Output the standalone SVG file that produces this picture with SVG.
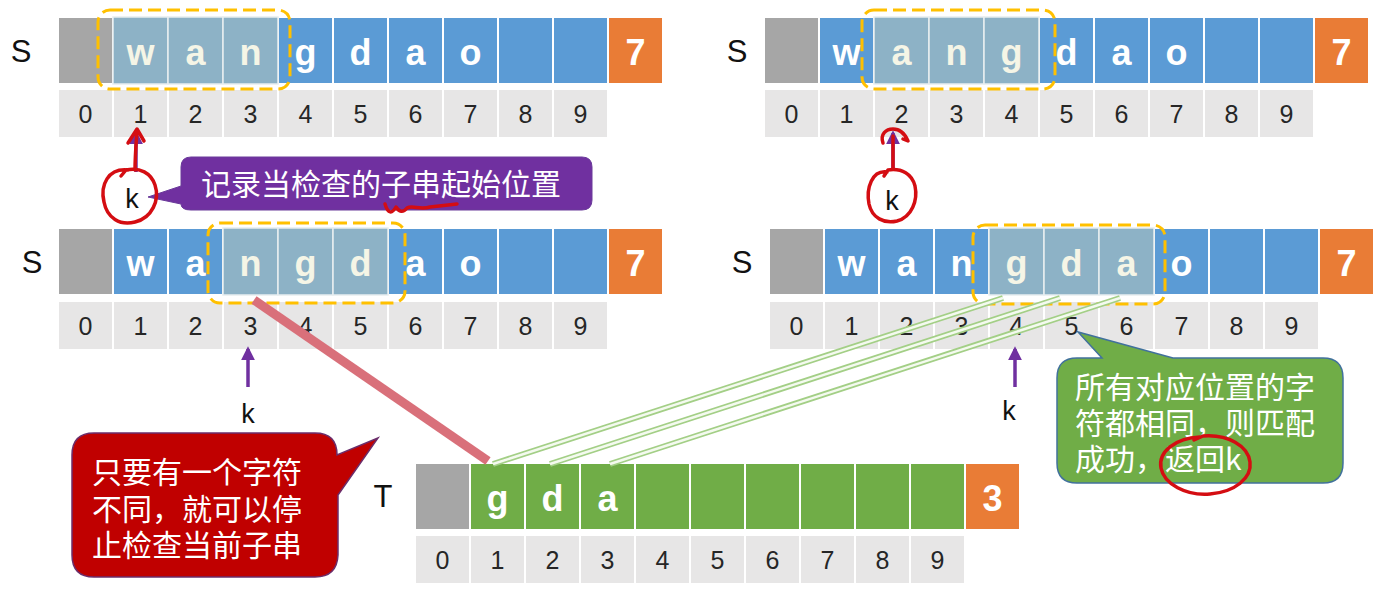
<svg xmlns="http://www.w3.org/2000/svg" xmlns:xlink="http://www.w3.org/1999/xlink" width="1389" height="591" viewBox="0 0 1389 591">
<style>
.c{stroke:#fff;stroke-width:2}
.gr{fill:#a6a6a6}
.or{fill:#e97c36}
.ix{fill:#e7e6e6}
.hl{fill:#8db2c6;stroke:#e8eef0;stroke-width:1.5}
.lt{font-family:"Liberation Sans",Arial,sans-serif;font-weight:bold;font-size:36px;fill:#fff;text-anchor:middle}
.lh{fill:#f5f5e6}
.num{font-family:"Liberation Sans",Arial,sans-serif;font-size:25px;fill:#262626;text-anchor:middle}
.lab{font-family:"Liberation Sans",Arial,sans-serif;font-size:31px;fill:#111;text-anchor:middle}
.k{font-family:"Liberation Sans",Arial,sans-serif;font-size:27px;fill:#111;text-anchor:middle}
.dash{fill:none;stroke:#ffc000;stroke-width:3;stroke-dasharray:13 6}
.zh{font-family:"Noto Sans CJK SC",sans-serif;font-size:30px;fill:#fff}
.pa{stroke:#7030a0;stroke-width:3.5;fill:none}
.red{fill:none;stroke:#d40d12;stroke-width:3.5;stroke-linecap:round;stroke-linejoin:round}
.gl-o{stroke:#a3cf86;stroke-width:6}
.gl-i{stroke:#f4faef;stroke-width:2.5}
</style>
<defs>
<marker id="ah" viewBox="0 0 10 10" refX="8" refY="5" markerWidth="4" markerHeight="4" orient="auto"><path d="M0,0 L10,5 L0,10 z" fill="#7030a0"/></marker>
<g id="topRow">
<rect class="c gr" x="0" y="0" width="55" height="67"/>
<rect class="c" x="55" y="0" width="55" height="67"/>
<rect class="c" x="110" y="0" width="55" height="67"/>
<rect class="c" x="165" y="0" width="55" height="67"/>
<rect class="c" x="220" y="0" width="55" height="67"/>
<rect class="c" x="275" y="0" width="55" height="67"/>
<rect class="c" x="330" y="0" width="55" height="67"/>
<rect class="c" x="385" y="0" width="55" height="67"/>
<rect class="c" x="440" y="0" width="55" height="67"/>
<rect class="c" x="495" y="0" width="55" height="67"/>
<rect class="c or" x="550" y="0" width="55" height="67"/>
</g>
<g id="idxRow">
<rect class="c ix" x="0" y="0" width="55" height="49"/>
<rect class="c ix" x="55" y="0" width="55" height="49"/>
<rect class="c ix" x="110" y="0" width="55" height="49"/>
<rect class="c ix" x="165" y="0" width="55" height="49"/>
<rect class="c ix" x="220" y="0" width="55" height="49"/>
<rect class="c ix" x="275" y="0" width="55" height="49"/>
<rect class="c ix" x="330" y="0" width="55" height="49"/>
<rect class="c ix" x="385" y="0" width="55" height="49"/>
<rect class="c ix" x="440" y="0" width="55" height="49"/>
<rect class="c ix" x="495" y="0" width="55" height="49"/>
<text class="num" x="27.5" y="34">0</text>
<text class="num" x="82.5" y="34">1</text>
<text class="num" x="137.5" y="34">2</text>
<text class="num" x="192.5" y="34">3</text>
<text class="num" x="247.5" y="34">4</text>
<text class="num" x="302.5" y="34">5</text>
<text class="num" x="357.5" y="34">6</text>
<text class="num" x="412.5" y="34">7</text>
<text class="num" x="467.5" y="34">8</text>
<text class="num" x="522.5" y="34">9</text>
</g>
</defs>
<rect x="0" y="0" width="1389" height="591" fill="#fff"/>

<g id="S1" transform="translate(58,17)">
<text class="lab" x="-37" y="45">S</text>
<use xlink:href="#topRow" href="#topRow" fill="#5b9bd5"/>
<rect class="hl" x="55" y="0" width="55" height="67"/>
<rect class="hl" x="110" y="0" width="55" height="67"/>
<rect class="hl" x="165" y="0" width="55" height="67"/>
<use xlink:href="#idxRow" href="#idxRow" y="72"/>
<text class="lt lh" x="82.5" y="48">w</text>
<text class="lt lh" x="137.5" y="48">a</text>
<text class="lt lh" x="192.5" y="48">n</text>
<text class="lt" x="247.5" y="48">g</text>
<text class="lt" x="302.5" y="48">d</text>
<text class="lt" x="357.5" y="48">a</text>
<text class="lt" x="412.5" y="48">o</text>
<text class="lt" x="577.5" y="48">7</text>
<rect class="dash" x="40" y="-7" width="192" height="79" rx="12"/>
</g>

<g id="S2" transform="translate(58,228)">
<text class="lab" x="-26" y="45">S</text>
<use xlink:href="#topRow" href="#topRow" fill="#5b9bd5"/>
<rect class="hl" x="165" y="0" width="55" height="67"/>
<rect class="hl" x="220" y="0" width="55" height="67"/>
<rect class="hl" x="275" y="0" width="55" height="67"/>
<use xlink:href="#idxRow" href="#idxRow" y="73"/>
<text class="lt" x="82.5" y="48">w</text>
<text class="lt" x="137.5" y="48">a</text>
<text class="lt lh" x="192.5" y="48">n</text>
<text class="lt lh" x="247.5" y="48">g</text>
<text class="lt lh" x="302.5" y="48">d</text>
<text class="lt" x="357.5" y="48">a</text>
<text class="lt" x="412.5" y="48">o</text>
<text class="lt" x="577.5" y="48">7</text>
<rect class="dash" x="150" y="-5" width="197" height="80" rx="12"/>
</g>

<g id="S3" transform="translate(764,17)">
<text class="lab" x="-27" y="45">S</text>
<use xlink:href="#topRow" href="#topRow" fill="#5b9bd5"/>
<rect class="hl" x="110" y="0" width="55" height="67"/>
<rect class="hl" x="165" y="0" width="55" height="67"/>
<rect class="hl" x="220" y="0" width="55" height="67"/>
<use xlink:href="#idxRow" href="#idxRow" y="72"/>
<text class="lt" x="82.5" y="48">w</text>
<text class="lt lh" x="137.5" y="48">a</text>
<text class="lt lh" x="192.5" y="48">n</text>
<text class="lt lh" x="247.5" y="48">g</text>
<text class="lt" x="302.5" y="48">d</text>
<text class="lt" x="357.5" y="48">a</text>
<text class="lt" x="412.5" y="48">o</text>
<text class="lt" x="577.5" y="48">7</text>
<rect class="dash" x="98" y="-7" width="193" height="79" rx="12"/>
</g>

<g id="S4" transform="translate(769,228)">
<text class="lab" x="-27" y="45">S</text>
<use xlink:href="#topRow" href="#topRow" fill="#5b9bd5"/>
<rect class="hl" x="220" y="0" width="55" height="67"/>
<rect class="hl" x="275" y="0" width="55" height="67"/>
<rect class="hl" x="330" y="0" width="55" height="67"/>
<use xlink:href="#idxRow" href="#idxRow" y="73"/>
<text class="lt" x="82.5" y="48">w</text>
<text class="lt" x="137.5" y="48">a</text>
<text class="lt" x="192.5" y="48">n</text>
<text class="lt lh" x="247.5" y="48">g</text>
<text class="lt lh" x="302.5" y="48">d</text>
<text class="lt lh" x="357.5" y="48">a</text>
<text class="lt" x="412.5" y="48">o</text>
<text class="lt" x="577.5" y="48">7</text>
<rect class="dash" x="204" y="-3" width="192" height="79" rx="12"/>
</g>

<g id="T" transform="translate(415,463)">
<text class="lab" x="-32" y="44">T</text>
<use xlink:href="#topRow" href="#topRow" fill="#70ad47"/>
<use xlink:href="#idxRow" href="#idxRow" y="72"/>
<text class="lt" x="82.5" y="48">g</text>
<text class="lt" x="137.5" y="48">d</text>
<text class="lt" x="192.5" y="48">a</text>
<text class="lt" x="577.5" y="48">3</text>
</g>

<g id="connectors">
<line x1="254" y1="300" x2="488" y2="461" stroke="#d9707a" stroke-width="9"/>
<g fill="none">
<line class="gl-o" x1="1003" y1="298" x2="493" y2="464"/>
<line class="gl-o" x1="1060" y1="298" x2="550" y2="464"/>
<line class="gl-o" x1="1120" y1="298" x2="610" y2="464"/>
<line class="gl-i" x1="1003" y1="298" x2="493" y2="464"/>
<line class="gl-i" x1="1060" y1="298" x2="550" y2="464"/>
<line class="gl-i" x1="1120" y1="298" x2="610" y2="464"/>
</g>
<line class="pa" x1="136" y1="172" x2="136" y2="133" marker-end="url(#ah)"/>
<line class="pa" x1="893" y1="170" x2="893" y2="133" marker-end="url(#ah)"/>
<line class="pa" x1="248" y1="387" x2="248" y2="349" marker-end="url(#ah)"/>
<line class="pa" x1="1015" y1="387" x2="1015" y2="349" marker-end="url(#ah)"/>
</g>

<g id="k1"><text class="k" x="132" y="208">k</text></g>
<g id="k2"><text class="k" x="248" y="423">k</text></g>
<g id="k3"><text class="k" x="892" y="210">k</text></g>
<g id="k4"><text class="k" x="1009" y="420">k</text></g>

<g id="callout-purple">
<path d="M191,157 H582 Q592,157 592,167 V200 Q592,210 582,210 H191 Q181,210 181,204 L148,197 L181,186 V167 Q181,157 191,157 Z" fill="#7030a0" stroke="#6a3a9a" stroke-width="1"/>
<text class="zh" x="381" y="195" text-anchor="middle">记录当检查的子串起始位置</text>
</g>

<g id="callout-red">
<path d="M94,433 H315 Q337,433 337,455 L378,438 L338,495 V555 Q337,577 315,577 H94 Q72,577 72,555 V455 Q72,433 94,433 Z" fill="#c00000" stroke="#6b2d6b" stroke-width="1.5"/>
<text class="zh" x="92" y="483">只要有一个字符</text>
<text class="zh" x="92" y="520">不同，就可以停</text>
<text class="zh" x="92" y="556">止检查当前子串</text>
</g>

<g id="callout-green">
<path d="M1077,358 H1102 L1078,332 L1173,358 H1323 Q1343,358 1343,378 V463 Q1343,483 1323,483 H1077 Q1057,483 1057,463 V378 Q1057,358 1077,358 Z" fill="#70ad47" stroke="#41719c" stroke-width="1.5"/>
<text class="zh" x="1075" y="398" fill="#f2f7ec">所有对应位置的字</text>
<text class="zh" x="1075" y="434" fill="#f2f7ec">符都相同，则匹配</text>
<text class="zh" x="1075" y="470" fill="#f2f7ec">成功，返回k</text>
</g>

<g id="annotations">
<path class="red" d="M128,170 C108,168 100,185 104,202 C107,218 120,226 135,222 C152,218 160,200 155,185 C151,173 140,167 126,170 L121,176"/>
<path class="red" d="M135,170 C135,158 136,145 137,130 M128,143 L137,129 L144,141"/>
<path class="red" d="M887,172 C872,170 866,188 869,204 C872,218 884,224 897,221 C912,217 918,200 915,186 C912,174 902,168 888,170 L884,176"/>
<path class="red" d="M893,169 V136 M883,143 C880,134 886,129 893,129 C900,129 905,134 908,141 L903,139"/>
<path class="red" d="M385,204 C388,214 392,214 396,207 C399,212 403,213 407,208 C412,205 420,210 430,207 L457,204"/>
<path class="red" d="M1200,437 C1175,438 1158,452 1161,468 C1164,484 1186,496 1210,494 C1235,492 1252,478 1250,462 C1248,446 1228,434 1203,436 L1194,440"/>
</g>
</svg>
